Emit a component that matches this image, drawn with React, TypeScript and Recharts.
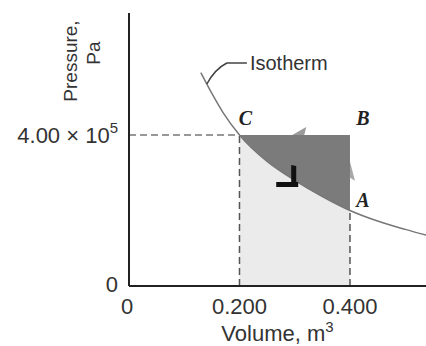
import React from 'react'
import { Area, ComposedChart, Line, ReferenceDot, ReferenceLine, XAxis, YAxis } from 'recharts'

// readings off the isotherm (m^3, Pa)
const volumes = [0.13, 0.15, 0.17, 0.2, 0.25, 0.3, 0.35, 0.4, 0.45, 0.5, 0.5376]
const isothermP = [565000, 510000, 460000, 400000, 330000, 280000, 237000, 200000, 172000, 150000, 135000]
const xTicks = [0, 0.2, 0.4]
const yTicks = [0, 400000]
const pointC = { v: 0.2, p: 400000 }
const pointB = { v: 0.4, p: 400000 }
const pointA = { v: 0.4, p: 200000 }
const arrowTop = { v: 0.31, p: 400000 }
const arrowSide = { v: 0.4, p: 300000 }
const marker = { v: 0.29, p: 286000 }
const isoLabelAt = { v: 0.141, p: 535000 }

const data = volumes.map((v, i) => {
  const p = isothermP[i]
  const inCycle = v >= pointC.v && v <= pointB.v
  return {
    v,
    iso: p,
    under: inCycle ? p : undefined,
    band: inCycle ? [p, pointB.p] : undefined
  }
})

const textColor = '#333'
const font = '"Liberation Sans", Arial, sans-serif'

const YTick = ({ x, y, payload }: any) =>
  payload.value === 0 ? (
    <text x={x} y={y} dx={-3} dy={6} textAnchor="end" fontSize={22} fill={textColor} fontFamily={font}>
      0
    </text>
  ) : (
    <text x={x} y={y} dx={-3} dy={8} textAnchor="end" fontSize={22} fill={textColor} fontFamily={font}>
      4.00 × 10
      <tspan dy={-10} fontSize={15}>5</tspan>
    </text>
  )

const XTick = ({ x, y, payload }: any) => (
  <text x={x} y={y} dx={payload.value === 0 ? -2 : 0} dy={20} textAnchor="middle" fontSize={22} fill={textColor} fontFamily={font}>
    {payload.value === 0 ? '0' : payload.value.toFixed(3)}
  </text>
)

const VolumeLabel = ({ viewBox }: any) => (
  <text x={viewBox.x + viewBox.width / 2} y={viewBox.y + 55} textAnchor="middle" fontSize={22} fill={textColor} fontFamily={font}>
    Volume, m<tspan dy={-9} fontSize={15}>3</tspan>
  </text>
)

const PressureLabel = ({ viewBox }: any) => {
  const ax = viewBox.x + 77
  const ay = viewBox.y + 48
  const bx = viewBox.x + 100
  const by = viewBox.y + 40
  return (
    <g fontSize={19} fill={textColor} fontFamily={font}>
      <text x={ax} y={ay} textAnchor="middle" transform={`rotate(-90, ${ax}, ${ay})`}>Pressure,</text>
      <text x={bx} y={by} textAnchor="middle" transform={`rotate(-90, ${bx}, ${by})`}>Pa</text>
    </g>
  )
}

const letter = (txt: string, dx: number, dy: number) => ({ cx, cy }: any) => (
  <text x={cx + dx} y={cy + dy} textAnchor="middle" fontSize={20} fontStyle="italic" fontWeight="bold" fill="#222" fontFamily='"Liberation Serif", serif'>
    {txt}
  </text>
)

const LeftArrow = ({ cx, cy }: any) => (
  <path d={`M${cx - 8},${cy} L${cx + 6},${cy - 8} L${cx + 4},${cy} Z`} fill="#9a9a9a" />
)

const UpArrow = ({ cx, cy }: any) => (
  <path d={`M${cx},${cy - 11} L${cx + 5},${cy + 8} L${cx},${cy + 5} Z`} fill="#a8a8a8" />
)

const BlackMarker = ({ cx, cy }: any) => (
  <path
    d={`M${cx - 13},${cy + 4} L${cx + 9},${cy + 4} L${cx + 9},${cy + 9} L${cx - 13},${cy + 9} Z M${cx + 2},${cy - 13} L${cx + 7},${cy - 12} L${cx + 7},${cy + 5} L${cx + 2},${cy + 5} Z`}
    fill="#111"
  />
)

const IsoLabel = ({ cx, cy }: any) => (
  <g>
    <path d={`M${cx},${cy} Q${cx + 8},${cy - 15} ${cx + 20},${cy - 21} L${cx + 40},${cy - 21}`} stroke="#444" strokeWidth={1.5} fill="none" />
    <text x={cx + 43} y={cy - 14} fontSize={20} fill={textColor} fontFamily={font}>
      Isotherm
    </text>
  </g>
)

const App: React.FC = () => {
  return (
    <div style={{ position: 'absolute', left: 0, top: 0, background: '#fff' }}>
      <ComposedChart width={426} height={346} data={data} margin={{ top: 13, right: 0, bottom: 0, left: 0 }}>
        <XAxis
          dataKey="v"
          type="number"
          domain={[0, 0.5376]}
          ticks={xTicks}
          height={60}
          tickLine={false}
          axisLine={{ stroke: '#222', strokeWidth: 2 }}
          tick={<XTick />}
          label={<VolumeLabel />}
          allowDataOverflow
        />
        <YAxis
          type="number"
          domain={[0, 723000]}
          ticks={yTicks}
          width={129}
          tickLine={false}
          axisLine={{ stroke: '#222', strokeWidth: 2 }}
          tick={<YTick />}
          label={<PressureLabel />}
          allowDataOverflow
        />
        <Area type="monotone" dataKey="under" stroke="none" fill="#ebebeb" fillOpacity={1} isAnimationActive={false} />
        <Area type="monotone" dataKey="band" stroke="none" fill="#7b7b7b" fillOpacity={1} isAnimationActive={false} />
        <ReferenceLine segment={[{ x: 0, y: pointC.p }, { x: pointC.v, y: pointC.p }]} stroke="#777" strokeWidth={1.5} strokeDasharray="7 4" />
        <ReferenceLine segment={[{ x: pointC.v, y: 0 }, { x: pointC.v, y: pointC.p }]} stroke="#555" strokeWidth={1.5} strokeDasharray="7 4" />
        <ReferenceLine segment={[{ x: pointA.v, y: 0 }, { x: pointA.v, y: pointA.p }]} stroke="#555" strokeWidth={1.5} strokeDasharray="7 4" />
        <Line type="monotone" dataKey="iso" stroke="#777" strokeWidth={1.5} dot={false} isAnimationActive={false} />
        <ReferenceDot x={arrowTop.v} y={arrowTop.p} shape={<LeftArrow />} />
        <ReferenceDot x={arrowSide.v} y={arrowSide.p} shape={<UpArrow />} />
        <ReferenceDot x={marker.v} y={marker.p} shape={<BlackMarker />} />
        <ReferenceDot x={pointC.v} y={pointC.p} shape={letter('C', 6, -10)} />
        <ReferenceDot x={pointB.v} y={pointB.p} shape={letter('B', 13, -10)} />
        <ReferenceDot x={pointA.v} y={pointA.p} shape={letter('A', 13, -3)} />
        <ReferenceDot x={isoLabelAt.v} y={isoLabelAt.p} shape={<IsoLabel />} />
      </ComposedChart>
    </div>
  )
}

export default App
